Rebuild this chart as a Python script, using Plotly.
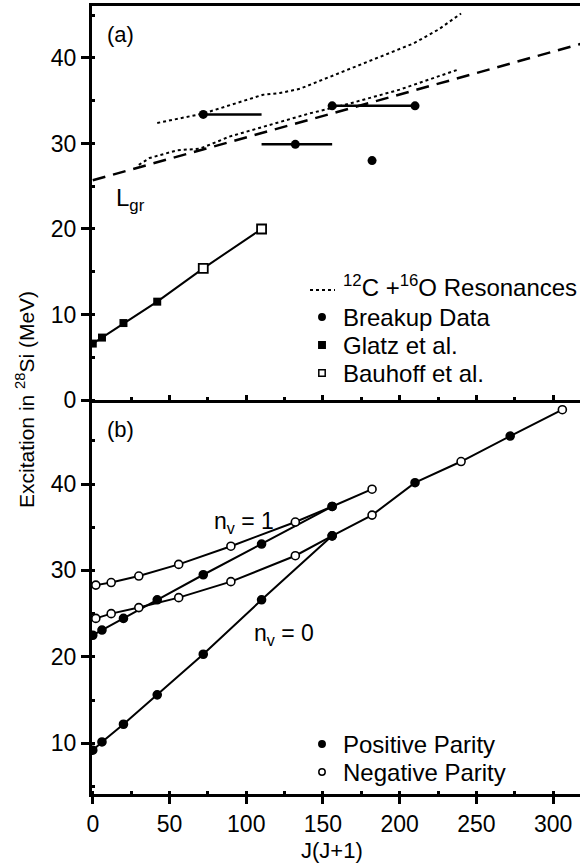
import plotly.graph_objects as go

# ---------------- Panel (a) data ----------------
res_hi_J = [42, 72, 111, 122, 135, 170, 209, 225, 240]
res_hi_E = [32.4, 33.5, 35.7, 35.9, 36.4, 38.9, 41.7, 43.3, 45.2]
res_lo_J = [30, 37, 55, 70, 89, 141, 168, 200, 239]
res_lo_E = [27.5, 28.3, 29.2, 29.4, 30.8, 33.5, 34.7, 36.3, 38.7]
lgr_J = [0, 320]
lgr_E = [25.7, 41.75]
breakup_J = [72, 132, 156, 210, 182]
breakup_E = [33.4, 29.9, 34.4, 34.4, 28.0]
breakup_minus = [0, 22, 0, 0, 0]
breakup_plus = [38, 24, 54, 0, 0]
glatz_J = [0, 6, 20, 42]
glatz_E = [6.6, 7.3, 9.0, 11.5]
bauhoff_J = [72, 110]
bauhoff_E = [15.4, 20.0]

# ---------------- Panel (b) data ----------------
J_even = [0, 6, 20, 42, 72, 110, 156]
J_odd = [2, 12, 30, 56, 90, 132]
E_pos_n0 = [9.2, 10.15, 12.2, 15.6, 20.3, 26.6, 34.0]
E_pos_n1 = [22.5, 23.1, 24.45, 26.6, 29.5, 33.05, 37.4]
E_neg_n0 = [24.45, 25.0, 25.7, 26.85, 28.7, 31.7]
E_neg_n1 = [28.3, 28.6, 29.35, 30.7, 32.8, 35.6]
J_hi_n0 = [156, 182, 210, 240, 272, 306]
E_hi_n0 = [34.0, 36.4, 40.15, 42.6, 45.55, 48.6]
P_hi_n0 = ['+', '-', '+', '-', '+', '-']
J_hi_n1 = [156, 182]
E_hi_n1 = [37.4, 39.4]
P_hi_n1 = ['+', '-']

# legend labels
legend_a = ["<sup>12</sup>C +<sup>16</sup>O Resonances", "Breakup Data",
            "Glatz et al.", "Bauhoff et al."]
legend_b = ["Positive Parity", "Negative Parity"]

FONT = "Liberation Sans, Arial, Helvetica, sans-serif"
BLK = "black"

def pcol(p):
    return [BLK if s == '+' else 'white' for s in p]

fig = go.Figure()

# ----- panel (a) traces -----
A = dict(xaxis="x2", yaxis="y2", showlegend=False, hoverinfo="skip")
fig.add_trace(go.Scatter(x=lgr_J, y=lgr_E, mode="lines",
                         line=dict(color=BLK, width=2.5, dash="13px,8px"), **A))
fig.add_trace(go.Scatter(x=res_hi_J, y=res_hi_E, mode="lines",
                         line=dict(color=BLK, width=2, dash="dot"), **A))
fig.add_trace(go.Scatter(x=res_lo_J, y=res_lo_E, mode="lines",
                         line=dict(color=BLK, width=2, dash="dot"), **A))
fig.add_trace(go.Scatter(x=breakup_J, y=breakup_E, mode="markers",
                         marker=dict(color=BLK, size=9),
                         error_x=dict(type="data", symmetric=False, array=breakup_plus,
                                      arrayminus=breakup_minus, width=0, thickness=2.5,
                                      color=BLK), **A))
fig.add_trace(go.Scatter(x=glatz_J + bauhoff_J, y=glatz_E + bauhoff_E, mode="lines",
                         line=dict(color=BLK, width=2), **A))
fig.add_trace(go.Scatter(x=glatz_J, y=glatz_E, mode="markers",
                         marker=dict(symbol="square", color=BLK, size=8), **A))
fig.add_trace(go.Scatter(x=bauhoff_J, y=bauhoff_E, mode="markers",
                         marker=dict(symbol="square", color="white", size=9,
                                     line=dict(color=BLK, width=1.8)), **A))

# ----- panel (b) traces -----
B = dict(xaxis="x", yaxis="y", showlegend=False, hoverinfo="skip")
lines_b = [
    (J_even, E_pos_n0, ['+'] * len(J_even)),
    (J_odd + J_hi_n0, E_neg_n0 + E_hi_n0, ['-'] * len(J_odd) + P_hi_n0),
    (J_even, E_pos_n1, ['+'] * len(J_even)),
    (J_odd + J_hi_n1, E_neg_n1 + E_hi_n1, ['-'] * len(J_odd) + P_hi_n1),
]
for xs, ys, ps in lines_b:
    fig.add_trace(go.Scatter(x=xs, y=ys, mode="lines", line=dict(color=BLK, width=2), **B))
for xs, ys, ps in lines_b:
    fig.add_trace(go.Scatter(x=xs, y=ys, mode="markers",
                             marker=dict(color=pcol(ps), size=8,
                                         line=dict(color=BLK, width=1.6)), **B))

W, H = 580, 867
ML, MR, MT, MB = 92, 0, 6, 73
PW, PH = W - ML - MR, H - MT - MB

def pxx(px):
    return (px - ML) / PW

def pxy(py):
    return (H - MB - py) / PH

XR = [-0.5, 317.5]
common_x = dict(range=XR, showgrid=False, zeroline=False, showline=True, linewidth=3,
                linecolor=BLK, dtick=50, tick0=0, tickwidth=2.5, tickcolor=BLK)
common_y = dict(showgrid=False, zeroline=False, showline=True, linewidth=3, linecolor=BLK,
                dtick=10, tick0=0, ticks="outside", ticklen=8, tickwidth=2.5, tickcolor=BLK,
                tickfont=dict(size=23),
                minor=dict(ticks="inside", ticklen=3, tickwidth=2.5, dtick=5, tick0=0,
                           tickcolor=BLK))

# ----- manual legends (symbols as shapes, labels as annotations) -----
LEG_FS = 24
sym_x = 322
txt_x = 341
rows_a = [289, 317, 345, 373]
rows_b = [744, 772]

shapes = []
def circle(px, py, r, fill):
    shapes.append(dict(type="circle", xref="paper", yref="paper",
                       xsizemode="pixel", ysizemode="pixel",
                       xanchor=pxx(px), yanchor=pxy(py),
                       x0=-r, x1=r, y0=-r, y1=r,
                       fillcolor=fill, line=dict(color=BLK, width=1.5)))
def square(px, py, r, fill):
    shapes.append(dict(type="rect", xref="paper", yref="paper",
                       xsizemode="pixel", ysizemode="pixel",
                       xanchor=pxx(px), yanchor=pxy(py),
                       x0=-r, x1=r, y0=-r, y1=r,
                       fillcolor=fill, line=dict(color=BLK, width=1.5)))

shapes.append(dict(type="line", xref="paper", yref="paper",
                   x0=pxx(310), x1=pxx(335), y0=pxy(rows_a[0] + 1), y1=pxy(rows_a[0] + 1),
                   line=dict(color=BLK, width=2, dash="dot")))
circle(sym_x, rows_a[1], 3.2, BLK)
square(sym_x, rows_a[2], 3.2, BLK)
square(sym_x, rows_a[3], 3.2, "white")
circle(sym_x, rows_b[0], 3.2, BLK)
circle(sym_x, rows_b[1], 3.2, "white")

annotations = []
for i, (lab, ry) in enumerate(zip(legend_a, rows_a)):
    annotations.append(dict(text=lab, x=pxx(txt_x), y=pxy(ry - (3 if i == 0 else 0)),
                            xref="paper", yref="paper", showarrow=False,
                            xanchor="left", yanchor="middle", font=dict(size=LEG_FS)))
for lab, ry in zip(legend_b, rows_b):
    annotations.append(dict(text=lab, x=pxx(txt_x), y=pxy(ry),
                            xref="paper", yref="paper", showarrow=False,
                            xanchor="left", yanchor="middle", font=dict(size=LEG_FS)))

annotations += [
    dict(text="(a)", x=17.8, y=42.7, xref="x2", yref="y2", showarrow=False,
         font=dict(size=22)),
    dict(text="(b)", x=17.8, y=46.25, xref="x", yref="y", showarrow=False,
         font=dict(size=22)),
    dict(text="L<sub>gr</sub>", x=13.9, y=23.4, xref="x2", yref="y2", showarrow=False,
         xanchor="left", yanchor="middle", font=dict(size=24)),
    dict(text="n<sub>v</sub> = 1", x=78.0, y=35.6, xref="x", yref="y", showarrow=False,
         xanchor="left", yanchor="middle", font=dict(size=23)),
    dict(text="n<sub>v</sub> = 0", x=103.5, y=22.64, xref="x", yref="y", showarrow=False,
         xanchor="left", yanchor="middle", font=dict(size=23)),
    dict(text="Excitation in <sup>28</sup>Si (MeV)", x=pxx(25), y=pxy(400), xref="paper",
         yref="paper", showarrow=False, textangle=-90, xanchor="center",
         yanchor="middle", font=dict(size=21)),
    dict(text="J(J+1)", x=pxx(332), y=pxy(850), xref="paper", yref="paper",
         showarrow=False, xanchor="center", yanchor="middle", font=dict(size=22)),
]

fig.update_layout(
    width=W, height=H,
    margin=dict(l=ML, r=MR, t=MT, b=MB, pad=0),
    paper_bgcolor="white", plot_bgcolor="white",
    font=dict(family=FONT, size=22, color=BLK),
    showlegend=False,
    xaxis=dict(domain=[0, 1], anchor="y", ticks="outside", ticklen=7,
               tickfont=dict(size=23),
               minor=dict(ticks="inside", ticklen=3, tickwidth=2.5, dtick=25, tick0=0,
                          tickcolor=BLK),
               showticklabels=True, **common_x),
    yaxis=dict(domain=[0, 0.5], anchor="x", range=[4.13, 49.72], **common_y),
    xaxis2=dict(domain=[0, 1], anchor="y2", matches="x", ticks="inside", ticklen=5,
                minor=dict(ticks="inside", ticklen=3, tickwidth=2.5, dtick=25, tick0=0,
                           tickcolor=BLK),
                showticklabels=False, mirror=True, **common_x),
    yaxis2=dict(domain=[0.5, 1], anchor="x2", range=[0, 46.08], **common_y),
    shapes=shapes,
    annotations=annotations,
)

fig.write_html("out.html")
